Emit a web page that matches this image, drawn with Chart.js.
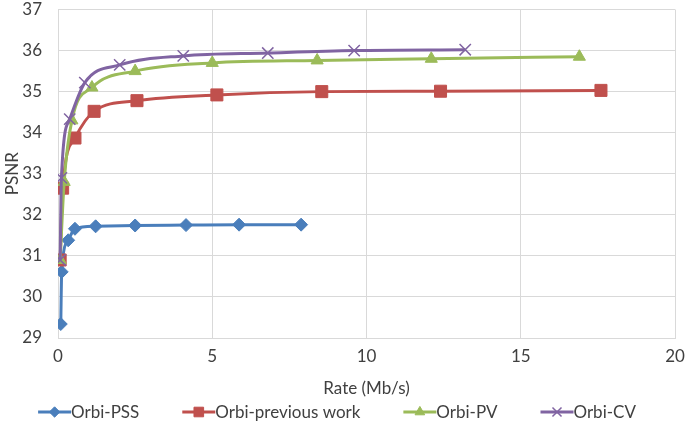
<!DOCTYPE html>
<html>
<head>
<meta charset="utf-8">
<script src="https://cdn.jsdelivr.net/npm/chart.js@4.4.0/dist/chart.umd.min.js"></script>
<style>
  html, body { margin: 0; padding: 0; background: #fff; }
  #wrap { width: 685px; height: 429px; }
</style>
</head>
<body>
<div id="wrap"><canvas id="rdChart" width="685" height="429"></canvas></div>
<script>
    // values (rate in Mb/s, PSNR in dB)
    const seriesNames = ['Orbi-PSS', 'Orbi-previous work', 'Orbi-PV', 'Orbi-CV'];
    const pssRate = [0.09, 0.12, 0.33, 0.55, 1.22, 2.5, 4.15, 5.87, 7.88];
    const pssPsnr = [29.34, 30.61, 31.38, 31.66, 31.72, 31.74, 31.75, 31.76, 31.76];
    const prevRate = [0.07, 0.15, 0.55, 1.17, 2.56, 5.15, 8.55, 12.4, 17.6];
    const prevPsnr = [30.9, 32.65, 33.87, 34.52, 34.78, 34.92, 35.0, 35.01, 35.03];
    const pvRate = [0.07, 0.2, 0.45, 1.1, 2.5, 5.0, 8.4, 12.1, 16.9];
    const pvPsnr = [30.9, 32.8, 34.3, 35.1, 35.5, 35.7, 35.76, 35.8, 35.85];
    const cvRate = [0.07, 0.11, 0.38, 0.87, 2.0, 4.06, 6.8, 9.6, 13.2];
    const cvPsnr = [30.9, 32.9, 34.33, 35.22, 35.65, 35.87, 35.94, 36.0, 36.02];
    const xTicks = [0, 5, 10, 15, 20];
    const yTicks = [29, 30, 31, 32, 33, 34, 35, 36, 37];

    const colors = ['#4a7ebb', '#c0504d', '#9bbb59', '#8064a2'];
    const markers = ['rectRot', 'rect', 'triangle', 'crossRot'];
    const markerRadius = [6.5, 8.5, 7, 8];
    const textColor = '#404040';
    const fontFamily = "Lato, 'Open Sans', sans-serif";
    const fontSize = 17;

    function toPoints(xs, ys) { return xs.map((x, i) => ({x, y: ys[i]})); }

    const allRates = [pssRate, prevRate, pvRate, cvRate];
    const allPsnr = [pssPsnr, prevPsnr, pvPsnr, cvPsnr];

    const datasets = seriesNames.map((name, i) => ({
        label: name,
        data: toPoints(allRates[i], allPsnr[i]),
        borderColor: colors[i],
        backgroundColor: colors[i],
        borderWidth: 3,
        pointStyle: markers[i],
        pointRadius: markerRadius[i],
        pointBorderWidth: markers[i] === 'crossRot' ? 1.5 : 1,
        cubicInterpolationMode: 'monotone',
        order: 4 - i
    }));

    // legend drawn as line + marker like the spreadsheet one
    const lineLegend = {
        id: 'lineLegend',
        afterDraw(chart) {
            const g = chart.ctx;
            const iconW = 33, gapItems = 43, y = 412;
            g.save();
            g.font = `${fontSize}px ${fontFamily}`;
            g.textBaseline = 'middle';
            const widths = chart.data.datasets.map(ds => iconW + g.measureText(ds.label).width);
            const total = widths.reduce((a, b) => a + b, 0) + gapItems * (widths.length - 1);
            let x = 337 - total / 2;
            chart.data.datasets.forEach((ds, i) => {
                g.strokeStyle = ds.borderColor; g.lineWidth = 3;
                g.beginPath(); g.moveTo(x, y); g.lineTo(x + iconW, y); g.stroke();
                g.fillStyle = ds.borderColor;
                g.lineWidth = ds.pointBorderWidth;
                Chart.helpers.drawPoint(g, {
                    pointStyle: ds.pointStyle, radius: ds.pointRadius * 0.8, rotation: 0,
                    borderWidth: ds.pointBorderWidth
                }, x + iconW / 2, y);
                g.fillStyle = textColor;
                g.fillText(ds.label, x + iconW, y + 1);
                x += widths[i] + gapItems;
            });
            g.restore();
        }
    };

    const ctx = document.getElementById('rdChart').getContext('2d');
    new Chart(ctx, {
        type: 'line',
        data: { datasets },
        plugins: [lineLegend],
        options: {
            responsive: false,
            animation: false,
            devicePixelRatio: 1,
            layout: { padding: { left: 0, right: 10, top: 8, bottom: 32 } },
            scales: {
                x: {
                    type: 'linear', min: 0, max: 20,
                    afterBuildTicks: axis => { axis.ticks = xTicks.map(v => ({value: v})); },
                    afterFit: axis => { axis.height = 59; axis.paddingLeft = 0; axis.paddingRight = 0; },
                    grid: { color: '#d9d9d9', lineWidth: 1, drawTicks: false },
                    border: { color: '#d9d9d9' },
                    ticks: { color: textColor, font: { family: fontFamily, size: fontSize }, padding: 8 },
                    title: { display: true, text: 'Rate (Mb/s)', color: textColor, font: { family: fontFamily, size: fontSize }, padding: { top: 0, bottom: -2 } }
                },
                y: {
                    type: 'linear', min: 29, max: 37,
                    afterBuildTicks: axis => { axis.ticks = yTicks.map(v => ({value: v})); },
                    afterFit: axis => { axis.width = 58; axis.paddingTop = 0; axis.paddingBottom = 0; },
                    grid: { color: '#d9d9d9', lineWidth: 1, drawTicks: false },
                    border: { color: '#d9d9d9' },
                    ticks: { color: textColor, font: { family: fontFamily, size: fontSize }, padding: 16 },
                    title: { display: true, text: 'PSNR', color: textColor, font: { family: fontFamily, size: fontSize }, padding: { top: 2, bottom: 0 } }
                }
            },
            plugins: {
                legend: { display: false },
                tooltip: { enabled: false }
            }
        }
    });
</script>
</body>
</html>
